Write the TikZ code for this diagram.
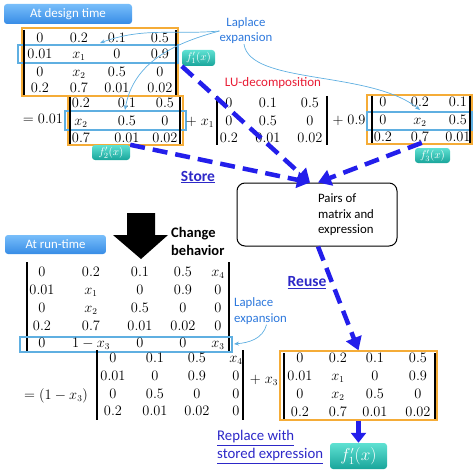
\documentclass[tikz,border=0pt]{standalone}
\usepackage{fontspec}
\newfontfamily\carl{Carlito}
\usetikzlibrary{arrows.meta}

\definecolor{orng}{RGB}{245,172,55}
\definecolor{hblue}{RGB}{95,175,225}
\definecolor{dblue}{RGB}{35,30,235}
\definecolor{lblue}{RGB}{45,120,220}
\definecolor{lured}{RGB}{232,28,52}
\definecolor{linkblue}{RGB}{45,40,200}
\definecolor{btnA}{RGB}{120,190,250}
\definecolor{btnB}{RGB}{55,140,230}
\definecolor{tagA}{RGB}{95,225,210}
\definecolor{tagB}{RGB}{25,165,155}

\begin{document}
\begin{tikzpicture}[x=1pt,y=-1pt,
  ent/.style={anchor=base, inner sep=0pt, font=\fontsize{13.5}{16}\selectfont},
  bar/.style={line width=1.3pt},
  obox/.style={draw=orng, line width=1.3pt, inner sep=0pt},
  hbox/.style={draw=hblue, line width=1.1pt},
  btn/.style={rounded corners=3pt, top color=btnA, bottom color=btnB, text=white, inner sep=0pt, font=\carl\fontsize{13}{14}\selectfont},
  tag/.style={rounded corners=3pt, top color=tagA, bottom color=tagB, text=white, inner sep=0pt},
  txt/.style={inner sep=0pt, font=\carl\fontsize{13}{15}\selectfont},
  dasharr/.style={draw=dblue, line width=4.5pt, dash pattern=on 15pt off 8pt, -{Triangle[length=13pt,width=16pt]}},
  solarr/.style={draw=dblue, line width=4.5pt, -{Triangle[length=10pt,width=15pt]}},
  lapl/.style={draw=hblue, line width=0.7pt, -{Stealth[length=5pt,width=4pt]}}]
\useasboundingbox (0,0) rectangle (474,476);

%design time
\node[btn, minimum width=128pt, minimum height=20pt] (design) at (68,14) {At design time};

%the 4x4 matrix
\node[obox, minimum width=156pt, minimum height=68pt] (boxa) at (100,62) {};
\draw[hbox] (18,45) rectangle (178,63);
\draw[bar] (24,30) -- (24,95);
\draw[bar] (176,30) -- (176,95);
\foreach \x/\e [count=\c] in {40/0,79/0.2,117/0.1,160/0.5} \node[ent] (a1\c) at (\x,42.5) {$\e$};
\foreach \x/\e [count=\c] in {40/0.01,79/x_1,117/0,160/0.9} \node[ent] (a2\c) at (\x,58.5) {$\e$};
\foreach \x/\e [count=\c] in {40/0,79/x_2,117/0.5,160/0} \node[ent] (a3\c) at (\x,76.5) {$\e$};
\foreach \x/\e [count=\c] in {40/0.2,79/0.7,117/0.01,160/0.02} \node[ent] (a4\c) at (\x,93) {$\e$};
\node[tag, minimum width=33pt, minimum height=16pt, font=\fontsize{11}{12}\selectfont] (f1a) at (198.5,58) {$f_1'(x)$};

%the expansion
\node[ent] (eq1) at (43,124) {$=0.01$};
\node[obox, minimum width=115pt, minimum height=49pt] (boxb) at (125.5,120.5) {};
\draw[hbox] (65,111) rectangle (186,130);
\draw[bar] (70,97) -- (70,144);
\draw[bar] (180,97) -- (180,144);
\foreach \x/\e [count=\c] in {81/0.2,127/0.1,165/0.5} \node[ent] (b1\c) at (\x,107) {$\e$};
\foreach \x/\e [count=\c] in {81/x_2,127/0.5,165/0} \node[ent] (b2\c) at (\x,125) {$\e$};
\foreach \x/\e [count=\c] in {81/0.7,127/0.01,165/0.02} \node[ent] (b3\c) at (\x,142) {$\e$};
\node[tag, minimum width=38pt, minimum height=15pt, font=\fontsize{11}{12}\selectfont] (f2a) at (111,152.5) {$f_2'(x)$};

\node[ent] (plus1) at (200,125) {$+\;x_1$};
\draw[bar] (217,96) -- (217,145);
\draw[bar] (327,96) -- (327,145);
\foreach \x/\e [count=\c] in {229/0,268/0.1,310/0.5} \node[ent] (c1\c) at (\x,107) {$\e$};
\foreach \x/\e [count=\c] in {229/0,268/0.5,310/0} \node[ent] (c2\c) at (\x,125) {$\e$};
\foreach \x/\e [count=\c] in {229/0.2,268/0.01,310/0.02} \node[ent] (c3\c) at (\x,142) {$\e$};

\node[ent] (plus2) at (349,124.5) {$+\;0.9$};
\node[obox, minimum width=105pt, minimum height=49pt] (boxd) at (419.5,119.5) {};
\draw[hbox] (367,112) rectangle (472,130);
\draw[bar] (372,96) -- (372,143);
\draw[bar, line width=2.5pt] (470,96) -- (470,143);
\foreach \x/\e [count=\c] in {383/0,420/0.2,458/0.1} \node[ent] (d1\c) at (\x,106.5) {$\e$};
\foreach \x/\e [count=\c] in {383/0,420/x_2,458/0.5} \node[ent] (d2\c) at (\x,124.5) {$\e$};
\foreach \x/\e [count=\c] in {383/0.2,420/0.7,458/0.01} \node[ent] (d3\c) at (\x,141.5) {$\e$};
\node[tag, minimum width=35pt, minimum height=15pt, font=\fontsize{11}{12}\selectfont] (f3a) at (432.5,155.5) {$f_3'(x)$};

%labels at design time
\node[txt, text=lblue, align=center, font=\carl\fontsize{12.8}{15}\selectfont] (lap1) at (246,31) {Laplace\\expansion};
\node[txt, text=lured, font=\carl\fontsize{13}{14}\selectfont] (lu) at (273,83) {LU-decomposition};
\coordinate (t1) at (100,43);
\coordinate (t2) at (125,110);
\coordinate (t3) at (420,110);
\draw[lapl] (lap1.west) to[out=185,in=20] (t1);
\draw[lapl] (lap1.west) to[out=195,in=80] (t2);
\draw[lapl] ([xshift=-2pt]lap1.south) .. controls (250,85) and (370,70) .. (t3);

%the store
\node[draw, rounded corners=8pt, line width=1pt, minimum width=160pt, minimum height=63pt] (pairs) at (317,214.5) {};
\node[txt, align=left, font=\carl\fontsize{12.8}{15.5}\selectfont] (pairstxt) at (346,215) {Pairs of\\matrix and\\expression};
\node[txt, text=linkblue, font=\carl\bfseries\fontsize{15.5}{17}\selectfont] (store) at (198,177) {\underline{Store}};
\draw[dasharr] (f1a.south west) -- ([xshift=-7pt]pairs.north);
\draw[dasharr] (f2a.north east) -- ([xshift=-7pt]pairs.north);
\draw[dasharr] ([xshift=7pt,yshift=5pt]f3a.north west) -- ([xshift=1pt]pairs.north);

%run time
\fill (127,213) -- (155,213) -- (155,235) -- (168,235) -- (141,259) -- (113,235) -- (127,235) -- cycle;
\node[txt, anchor=west, align=left, font=\carl\bfseries\fontsize{14.5}{18}\selectfont] (chg) at (171,241) {Change\\behavior};
\node[btn, minimum width=101pt, minimum height=19pt, font=\carl\fontsize{12.8}{14}\selectfont] (runtime) at (55.5,244.5) {At run-time};

%the 5x5 matrix
\draw[bar] (27,262) -- (27,352);
\draw[bar] (229,262) -- (229,352);
\draw[hbox] (20,337) rectangle (232,352);
\foreach \x/\e [count=\c] in {42/0,91/0.2,140/0.1,183/0.5,218/x_4} \node[ent] (e1\c) at (\x,276.5) {$\e$};
\foreach \x/\e [count=\c] in {42/0.01,91/x_1,140/0,183/0.9,218/0} \node[ent] (e2\c) at (\x,294.5) {$\e$};
\foreach \x/\e [count=\c] in {42/0,91/x_2,140/0.5,183/0,218/0} \node[ent] (e3\c) at (\x,312.5) {$\e$};
\foreach \x/\e [count=\c] in {42/0.2,91/0.7,140/0.01,183/0.02,218/0} \node[ent] (e4\c) at (\x,330.5) {$\e$};
\foreach \x/\e [count=\c] in {42/0,91/1-x_3,140/0,183/0,218/x_3} \node[ent] (e5\c) at (\x,347.5) {$\e$};

\node[txt, text=lblue, anchor=west, align=left, font=\carl\fontsize{12.8}{16}\selectfont] (lap2) at (234,311) {Laplace\\expansion};
\coordinate (t4) at (234,344);
\draw[lapl] ([xshift=6pt]lap2.south) to[out=-105,in=5] (t4);

%the expansion at run time
\node[ent] (eq2) at (56,399) {$=(1-x_3)$};
\draw[bar] (97,350) -- (97,420);
\draw[bar] (243,350) -- (243,420);
\foreach \x/\e [count=\c] in {113/0,155/0.1,197/0.5,236/x_4} \node[ent] (g1\c) at (\x,362.5) {$\e$};
\foreach \x/\e [count=\c] in {113/0.01,155/0,197/0.9,236/0} \node[ent] (g2\c) at (\x,380.5) {$\e$};
\foreach \x/\e [count=\c] in {113/0,155/0.5,197/0,236/0} \node[ent] (g3\c) at (\x,398.5) {$\e$};
\foreach \x/\e [count=\c] in {113/0.2,155/0.01,197/0.02,236/0} \node[ent] (g4\c) at (\x,415.5) {$\e$};

\node[ent] (plus3) at (264,383) {$+\;x_3$};
\node[obox, minimum width=157pt, minimum height=69pt] (boxh) at (358.5,385.5) {};
\draw[bar] (284,353) -- (284,419);
\draw[bar] (435,353) -- (435,419);
\foreach \x/\e [count=\c] in {300/0,338/0.2,375/0.1,418/0.5} \node[ent] (h1\c) at (\x,362.5) {$\e$};
\foreach \x/\e [count=\c] in {300/0.01,338/x_1,375/0,418/0.9} \node[ent] (h2\c) at (\x,380.5) {$\e$};
\foreach \x/\e [count=\c] in {300/0,338/x_2,375/0.5,418/0} \node[ent] (h3\c) at (\x,398.5) {$\e$};
\foreach \x/\e [count=\c] in {300/0.2,338/0.7,375/0.01,418/0.02} \node[ent] (h4\c) at (\x,416.5) {$\e$};

%reuse
\node[txt, text=linkblue, font=\carl\bfseries\fontsize{15.5}{17}\selectfont] (reuse) at (307,283) {\underline{Reuse}};
\draw[dasharr] ([xshift=1pt]pairs.south) -- (boxh.north);
\node[tag, minimum width=57pt, minimum height=26pt, font=\fontsize{16}{18}\selectfont] (f1b) at (358.5,456) {$f_1'(x)$};
\draw[solarr] (boxh.south) -- (f1b.north);
\node[txt, text=linkblue, anchor=west, align=left, font=\carl\fontsize{14.8}{18}\selectfont] (replace) at (217,447) {\underline{Replace with}\\\underline{stored expression}};
\end{tikzpicture}
\end{document}
